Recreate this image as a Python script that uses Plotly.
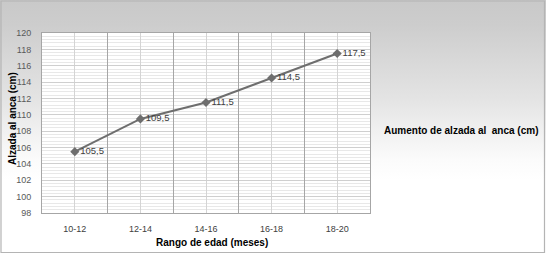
import plotly.graph_objects as go

categories = ["10-12", "12-14", "14-16", "16-18", "18-20"]
alzada = [105.5, 109.5, 111.5, 114.5, 117.5]
labels = ["105,5", "109,5", "111,5", "114,5", "117,5"]
y_ticks = [98, 100, 102, 104, 106, 108, 110, 112, 114, 116, 118, 120]

W, H = 546, 255
L, R, T, B = 42, 176, 33, 42
PW, PH = W - L - R, H - T - B

def px_x(px):
    return (px - L) / PW

def px_y(py):
    return (H - B - py) / PH

FONT = "Liberation Sans, Arial, sans-serif"

pos = list(range(len(categories)))
bounds = [p - 0.5 for p in pos] + [pos[-1] + 0.5]

fig = go.Figure()
# helper trace that carries the overlaid grid axis (not visible)
fig.add_trace(go.Scatter(
    x=pos, y=alzada, xaxis="x2", yaxis="y", mode="lines",
    line=dict(width=0, color="rgba(0,0,0,0)"), hoverinfo="skip", showlegend=False,
))
fig.add_trace(go.Scatter(
    x=pos, y=alzada, mode="lines+markers+text",
    text=labels, textposition="middle right",
    textfont=dict(size=9.5, color="#404040", family=FONT),
    line=dict(color="#6e6e6e", width=2),
    marker=dict(symbol="diamond", size=7, color="#6e6e6e"),
    showlegend=False, cliponaxis=False,
))

shapes = [
    dict(type="rect", xref="paper", yref="paper",
         x0=px_x(1), x1=px_x(544.5), y0=px_y(252.5), y1=px_y(1),
         fillcolor="rgba(0,0,0,0)", line=dict(color="#b4b4b4", width=1.2), layer="above"),
]

fig.update_layout(
    width=W, height=H,
    margin=dict(l=L, r=R, t=T, b=B),
    paper_bgcolor="rgba(0,0,0,0)", plot_bgcolor="white",
    shapes=shapes,
    xaxis=dict(
        range=[-0.5, 4.5], tickmode="array", tickvals=pos, ticktext=categories,
        showgrid=False,
        showline=True, linecolor="#a6a6a6", mirror=True, linewidth=1,
        ticks="", ticklabelstandoff=7,
        tickfont=dict(size=9, color="#404040", family=FONT),
        zeroline=False, fixedrange=True,
    ),
    xaxis2=dict(
        overlaying="x", range=[-0.5, 4.5], tickmode="array", tickvals=bounds,
        showticklabels=False, ticks="", showline=False, zeroline=False,
        showgrid=True, gridcolor="#a6a6a6", gridwidth=1,
        minor=dict(tickmode="array", tickvals=pos, showgrid=True,
                   gridcolor="#d4d4d4", gridwidth=1, ticks=""),
        fixedrange=True,
    ),
    yaxis=dict(
        range=[98, 120], tickmode="array", tickvals=y_ticks,
        showgrid=True, gridcolor="#cfcfcf", gridwidth=1,
        minor=dict(dtick=0.4, tick0=98, showgrid=True, gridcolor="#e8e8e8", gridwidth=1, ticks=""),
        showline=True, linecolor="#a6a6a6", mirror=True, linewidth=1,
        ticks="", ticklabelstandoff=8,
        tickfont=dict(size=9, color="#595959", family=FONT),
        zeroline=False, fixedrange=True,
    ),
    annotations=[
        dict(text="<b>Rango de edad (meses)</b>", xref="paper", yref="paper",
             x=px_x(212), y=px_y(242), showarrow=False, xanchor="center", yanchor="middle",
             font=dict(size=10, color="#000000", family=FONT)),
        dict(text="<b>Alzada al anca (cm)</b>", xref="paper", yref="paper",
             x=px_x(12), y=px_y(119), showarrow=False, xanchor="center", yanchor="middle",
             textangle=-90, font=dict(size=10, color="#000000", family=FONT)),
        dict(text="<b>Aumento de alzada al\u00a0 anca (cm)</b>", xref="paper", yref="paper",
             x=px_x(382), y=px_y(130), showarrow=False, xanchor="left", yanchor="middle",
             font=dict(size=10, color="#000000", family=FONT)),
    ],
)

post = (
    "document.documentElement.style.margin='0';"
    "document.body.style.margin='0';document.body.style.padding='0';"
    "var g='linear-gradient(to bottom, #c9c9c9 0px, #cdcdcd 25px, #d8d8d8 60px, "
    "#e4e4e4 100px, #f0f0f0 130px, #fbfbfb 160px, #ffffff 180px, #ffffff 255px)';"
    "var d=document.querySelector('.plotly-graph-div');"
    "d.style.background=g;"
    "document.body.style.background='#ffffff';"
)

fig.write_html("out.html", config={"displayModeBar": False}, post_script=post)
